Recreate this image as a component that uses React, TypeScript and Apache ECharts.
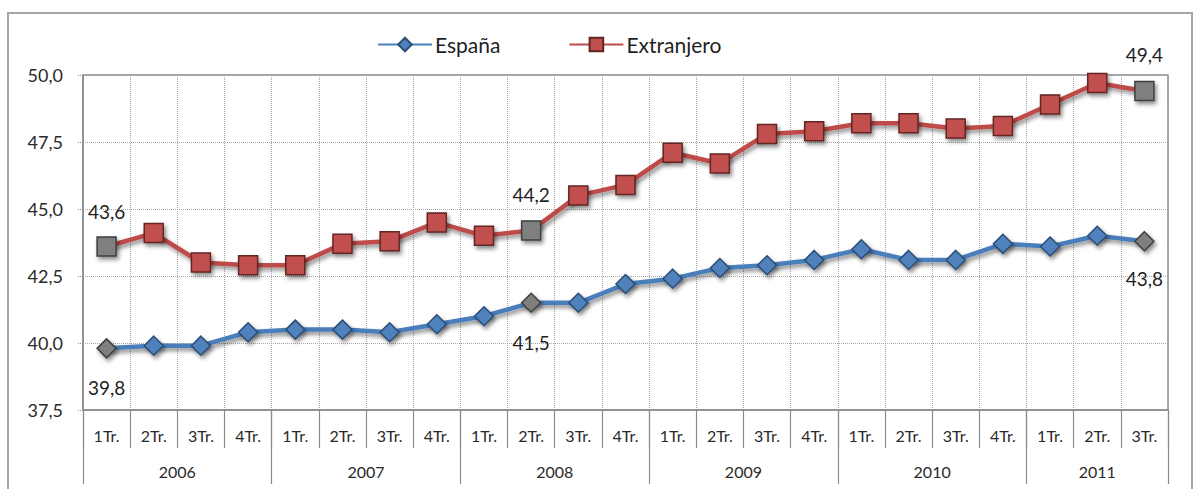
import React, { useEffect, useRef } from "react";
import * as echarts from "echarts";

const years = ["2006", "2007", "2008", "2009", "2010", "2011"];
const quartersPerYear = [4, 4, 4, 4, 4, 3];
const quarterNames = ["1Tr.", "2Tr.", "3Tr.", "4Tr."];

const espana = [
  39.8, 39.9, 39.9, 40.4, 40.5, 40.5, 40.4, 40.7, 41.0, 41.5, 41.5, 42.2,
  42.4, 42.8, 42.9, 43.1, 43.5, 43.1, 43.1, 43.7, 43.6, 44.0, 43.8,
];
const extranjero = [
  43.6, 44.1, 43.0, 42.9, 42.9, 43.7, 43.8, 44.5, 44.0, 44.2, 45.5, 45.9,
  47.1, 46.7, 47.8, 47.9, 48.2, 48.2, 48.0, 48.1, 48.9, 49.7, 49.4,
];
const highlighted = [0, 9, 22];

const yMin = 37.5;
const yMax = 50;
const yStep = 2.5;

const FONT = 'Lato, "Noto Sans", sans-serif';

function fmt(v: number) {
  return v.toFixed(1).replace(".", ",");
}

export default function App() {
  const ref = useRef<HTMLDivElement>(null);

  useEffect(() => {
    if (!ref.current) return;
    const chart = echarts.init(ref.current, undefined, { renderer: "svg" });

    const quarterLabels: string[] = [];
    quartersPerYear.forEach((n) => {
      for (let q = 0; q < n; q++) quarterLabels.push(quarterNames[q]);
    });
    const total = quarterLabels.length;

    // half-quarter slots for the year row (boundaryGap false)
    const slots: string[] = new Array(total * 2 + 1).fill("");
    const boundaries = new Set<number>([0]);
    let acc = 0;
    years.forEach((y, k) => {
      const start = acc;
      acc += quartersPerYear[k];
      slots[start + acc] = y;
      boundaries.add(acc * 2);
    });

    const grayItem = { color: "#7f7f7f", borderColor: "#3f3f3f" };
    const labelStyle = {
      show: true,
      fontSize: 19,
      color: "#1f1f1f",
      fontFamily: FONT,
      formatter: (p: any) => fmt(p.value),
    };
    const espDist: Record<number, number> = { 0: 19, 9: 20, 22: 18 };
    const extDist: Record<number, number> = { 0: 15, 9: 16, 22: 17 };

    const espData = espana.map((v, i) =>
      highlighted.includes(i)
        ? {
            value: v,
            itemStyle: grayItem,
            label: { ...labelStyle, position: "bottom", distance: espDist[i] },
          }
        : v
    );
    const extData = extranjero.map((v, i) =>
      highlighted.includes(i)
        ? {
            value: v,
            itemStyle: grayItem,
            label: { ...labelStyle, position: "top", distance: extDist[i] },
          }
        : v
    );

    const shadow = {
      shadowColor: "rgba(0,0,0,0.45)",
      shadowBlur: 4,
      shadowOffsetX: 2,
      shadowOffsetY: 3,
    };

    chart.setOption({
      animation: false,
      textStyle: { fontFamily: FONT },
      graphic: [
        {
          type: "rect",
          shape: { x: 8, y: 13, width: 1184, height: 520 },
          style: { fill: "none", stroke: "#a6a6a6", lineWidth: 2 },
          silent: true,
        },
      ],
      legend: {
        left: 372,
        top: 29,
        itemWidth: 54,
        itemHeight: 17,
        itemGap: 68,
        textStyle: { fontSize: 21, color: "#1f1f1f", fontFamily: FONT, padding: [0, 0, 0, -2] },
        data: ["España", "Extranjero"],
      },
      grid: {
        left: 83,
        right: 33,
        top: 75,
        bottom: 79,
        show: true,
        borderColor: "#8c8c8c",
        borderWidth: 1.5,
        backgroundColor: "#fff",
      },
      xAxis: [
        {
          type: "category",
          data: quarterLabels,
          boundaryGap: true,
          axisLine: { show: true, lineStyle: { color: "#8c8c8c", width: 1.5 } },
          axisTick: {
            show: true,
            interval: 0,
            length: 38,
            lineStyle: { color: "#8c8c8c", width: 1.2 },
          },
          axisLabel: {
            interval: 0,
            margin: 17,
            fontSize: 16,
            color: "#2a2a2a",
            fontFamily: FONT,
          },
          splitLine: {
            show: true,
            interval: 0,
            lineStyle: { color: "#a6a6a6", type: "dotted", width: 1 },
          },
        },
        {
          type: "category",
          data: slots,
          boundaryGap: false,
          position: "bottom",
          offset: 0,
          axisLine: { show: false },
          axisTick: {
            show: true,
            length: 74,
            interval: (index: number) => boundaries.has(index),
            lineStyle: { color: "#8c8c8c", width: 1.2 },
          },
          axisLabel: {
            interval: (index: number, value: string) => value !== "",
            margin: 53,
            fontSize: 16,
            color: "#2a2a2a",
            fontFamily: FONT,
          },
          splitLine: { show: false },
        },
      ],
      yAxis: {
        type: "value",
        min: yMin,
        max: yMax,
        interval: yStep,
        axisLine: { show: true, lineStyle: { color: "#8c8c8c", width: 1.5 } },
        axisTick: {
          show: true,
          length: 6,
          lineStyle: { color: "#8c8c8c", type: "dotted" },
        },
        axisLabel: {
          margin: 20,
          fontSize: 18,
          color: "#2a2a2a",
          fontFamily: FONT,
          formatter: (v: number) => fmt(v),
        },
        splitLine: {
          show: true,
          lineStyle: { color: "#a6a6a6", type: "dotted", width: 1 },
        },
      },
      series: [
        {
          name: "España",
          type: "line",
          data: espData,
          symbol: "diamond",
          symbolSize: 19,
          lineStyle: { color: "#4a7ebb", width: 4.5, ...shadow },
          itemStyle: {
            color: "#4f81bd",
            borderColor: "#2c4d75",
            borderWidth: 1.5,
            ...shadow,
          },
          z: 3,
        },
        {
          name: "Extranjero",
          type: "line",
          data: extData,
          symbol: "rect",
          symbolSize: 19,
          lineStyle: { color: "#be4b48", width: 4.5, ...shadow },
          itemStyle: {
            color: "#c0504d",
            borderColor: "#632523",
            borderWidth: 1.5,
            ...shadow,
          },
          z: 3,
        },
      ],
    });

    return () => chart.dispose();
  }, []);

  return (
    <div
      ref={ref}
      style={{
        position: "fixed",
        left: 0,
        top: 0,
        width: 1201,
        height: 489,
        background: "#fff",
      }}
    />
  );
}
